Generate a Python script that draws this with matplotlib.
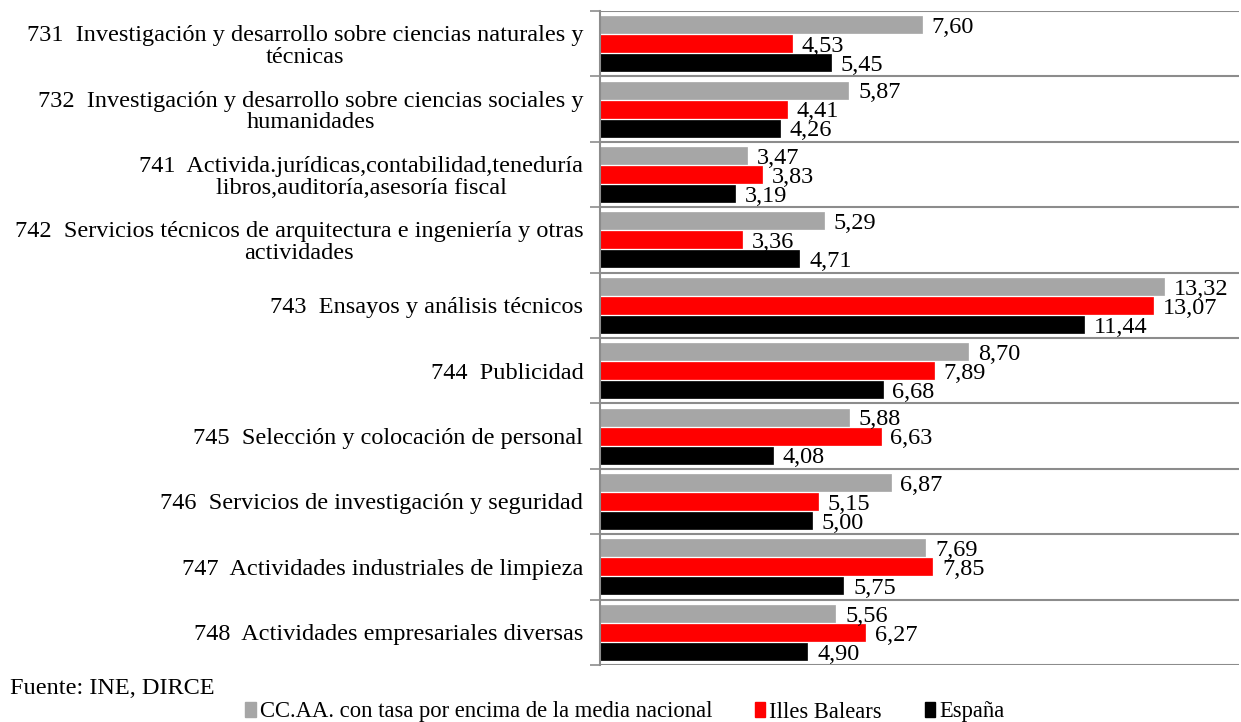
import matplotlib
matplotlib.use("Agg")
import matplotlib.pyplot as plt
import numpy as np
from matplotlib.patches import Patch

plt.rcParams['font.family'] = ['Liberation Serif', 'DejaVu Serif']

categories = [
    "731  Investigación y desarrollo sobre ciencias naturales y\ntécnicas",
    "732  Investigación y desarrollo sobre ciencias sociales y\nhumanidades",
    "741  Activida.jurídicas,contabilidad,teneduría\nlibros,auditoría,asesoría fiscal",
    "742  Servicios técnicos de arquitectura e ingeniería y otras\nactividades",
    "743  Ensayos y análisis técnicos",
    "744  Publicidad",
    "745  Selección y colocación de personal",
    "746  Servicios de investigación y seguridad",
    "747  Actividades industriales de limpieza",
    "748  Actividades empresariales diversas",
]
ccaa = [7.60, 5.87, 3.47, 5.29, 13.32, 8.70, 5.88, 6.87, 7.69, 5.56]
baleares = [4.53, 4.41, 3.83, 3.36, 13.07, 7.89, 6.63, 5.15, 7.85, 6.27]
espana = [5.45, 4.26, 3.19, 4.71, 11.44, 6.68, 4.08, 5.00, 5.75, 4.90]
series_names = ["CC.AA. con tasa por encima de la media nacional", "Illes Balears", "España"]
colors = ["#A6A6A6", "#FF0000", "#000000"]

FS = 17.5
LFS = 16.3

fig = plt.figure(figsize=(12.41, 7.22), dpi=100)
ax = fig.add_axes([600/1241, 1 - 665/722, (1239-600)/1241, (665-11)/722])

n = len(categories)
y = np.arange(n)
h = 0.26
offs = [-0.29, 0, 0.29]
for vals, col, off in zip([ccaa, baleares, espana], colors, offs):
    bars = ax.barh(y + off, vals, height=h, color=col, edgecolor=col, linewidth=0.5)
    for b, v in zip(bars, vals):
        ax.annotate(f"{v:.2f}".replace('.', ','), xy=(b.get_width(), b.get_y() + b.get_height()/2),
                    xytext=(7, -2), textcoords='offset points', va='center', ha='left', fontsize=FS)

ax.set_xlim(0, 15.1)
ax.set_ylim(n - 0.5, -0.5)

ax.set_yticks(np.arange(-0.5, n + 0.5, 1.0))
ax.set_yticklabels([])
ax.set_yticks(y, minor=True)
ax.set_yticklabels(categories, minor=True, fontsize=FS, multialignment='center', linespacing=1.05)
ax.tick_params(axis='y', which='major', length=7, color='#8C8C8C', width=1.2)
ax.tick_params(axis='y', which='minor', length=0, pad=12)
ax.yaxis.grid(True, which='major', color='#8C8C8C', linewidth=1.5)
ax.set_axisbelow(True)
ax.set_xticks([])
for s in ['top', 'right', 'bottom']:
    ax.spines[s].set_visible(False)
ax.spines['left'].set_color('#8C8C8C')
ax.spines['left'].set_linewidth(1.5)

fig.text(10/1241, 1 - 688/722, "Fuente: INE, DIRCE", fontsize=FS, va='center', ha='left')

handles = [Patch(facecolor=c, edgecolor=c) for c in colors]
fig.legend(handles, series_names, loc='center', bbox_to_anchor=(625/1241, 1 - 712/722), ncol=3,
           frameon=False, fontsize=LFS, handlelength=0.45, handleheight=0.6, handletextpad=0.18,
           columnspacing=1.9, borderpad=0)

fig.savefig("out.png", dpi=100)
